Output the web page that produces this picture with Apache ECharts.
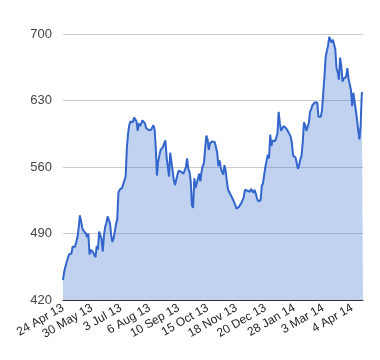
<!DOCTYPE html>
<html>
<head>
<meta charset="utf-8">
<script src="https://cdn.jsdelivr.net/npm/echarts@6/dist/echarts.min.js"></script>
<style>html,body{margin:0;padding:0;background:#fff}#c{width:380px;height:360px}</style>
</head>
<body>
<div id="c"></div>
<script>
const tickLabels = ['24 Apr 13','30 May 13','3 Jul 13','6 Aug 13','10 Sep 13','15 Oct 13','18 Nov 13','20 Dec 13','28 Jan 14','3 Mar 14','4 Apr 14'];
const labelStep = 24;
const values = [
441,450,455,460,464,468,470,469,476,478,476,481,486,496,509,503,496,493,491,490,
486,490,468,473,471,470,468,465,477,473,492,490,484,471,488,497,501,508,506,501,
488,481,485,492,500,505,533,536,534,538,539,546,550,580,595,604,608,610,607,612,
610,608,598,606,603,606,609,611,606,601,599,599,598,599,601,604,600,580,551,566,
572,578,578,581,585,588,570,560,550,575,573,556,546,541,543,552,556,557,555,554,
553,552,560,569,558,555,545,520,517,548,538,543,548,553,545,555,561,564,580,593,
589,578,585,586,587,585,586,585,575,561,567,559,555,552,562,556,545,536,534,531,
529,526,523,520,516,514,518,520,522,524,528,536,534,535,536,534,537,535,533,536,
532,527,524,523,525,540,543,552,560,567,573,569,594,582,588,586,587,591,595,618,
606,598,600,603,602,601,599,597,595,592,585,572,571,570,568,558,562,568,572,586,
607,604,598,596,606,618,621,625,627,628,630,628,613,614,613,620,638,655,676,677,
688,697,695,691,694,694,684,664,660,652,675,666,650,653,654,655,664,653,652,641,
624,638,640,620,610,599,589,603,638,638
];
const categories = values.map((v, i) => (i % labelStep === 0 && tickLabels[i / labelStep]) ? tickLabels[i / labelStep] : String(i));

const chart = echarts.init(document.getElementById('c'), null, {renderer: 'canvas'});
chart.setOption({
  animation: false,
  grid: {left: 63, right: 17, top: 34, bottom: 60, containLabel: false},
  xAxis: {
    type: 'category',
    data: categories,
    boundaryGap: false,
    axisLine: {show: true, lineStyle: {color: '#333', width: 1}},
    axisTick: {show: false},
    splitLine: {show: false},
    axisLabel: {
      interval: labelStep - 1,
      rotate: 30,
      margin: 7,
      color: '#222',
      fontFamily: 'Liberation Sans, Arial, sans-serif',
      fontSize: 12,
      formatter: function (v, i) { return (i % labelStep === 0) ? v : ''; }
    }
  },
  yAxis: {
    type: 'value',
    min: 420, max: 700, interval: 70,
    axisLine: {show: false},
    axisTick: {show: false},
    splitLine: {lineStyle: {color: '#cccccc', width: 1}},
    axisLabel: {color: '#444', fontFamily: 'Liberation Sans, Arial, sans-serif', fontSize: 13, margin: 11}
  },
  series: [{
    type: 'line',
    data: values,
    showSymbol: false,
    symbol: 'none',
    lineStyle: {color: '#3366cc', width: 2},
    areaStyle: {color: '#3366cc', opacity: 0.3},
    z: 3
  }]
});
</script>
</body>
</html>
